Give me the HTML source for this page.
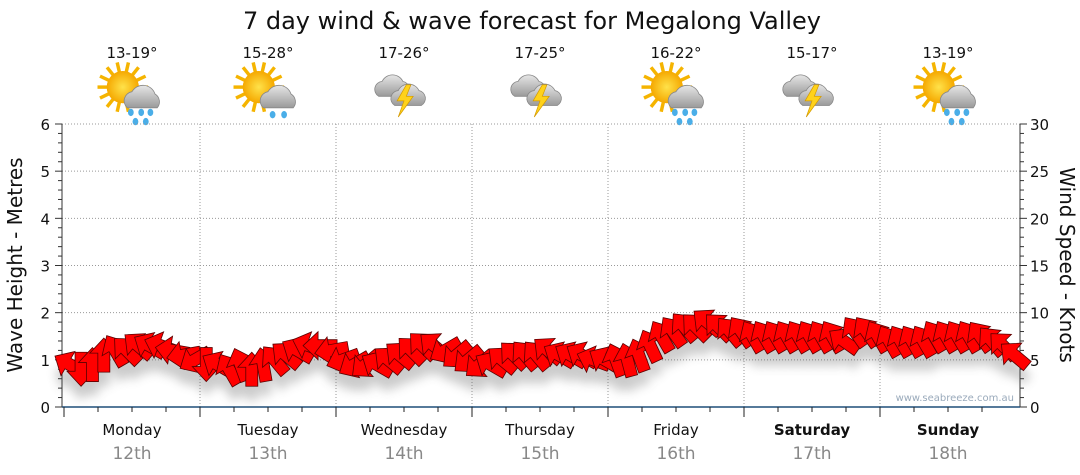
<!DOCTYPE html>
<html><head><meta charset="utf-8"><style>
html,body{margin:0;padding:0;background:#fff;width:1080px;height:475px;overflow:hidden}
text{font-family:"DejaVu Sans","Liberation Sans",sans-serif}
</style></head><body>
<svg id="chart" width="1080" height="475" viewBox="0 0 1080 475" xmlns="http://www.w3.org/2000/svg">
<defs>
<filter id="sh" x="-50%" y="-50%" width="200%" height="200%"><feGaussianBlur stdDeviation="5"/></filter>
<radialGradient id="sun" cx="50%" cy="50%" r="50%"><stop offset="0" stop-color="#ffe24a"/><stop offset="1" stop-color="#f5a800"/></radialGradient>
<linearGradient id="cl" x1="0" y1="0" x2="0" y2="1"><stop offset="0" stop-color="#e6e6e6"/><stop offset="1" stop-color="#9a9a9a"/></linearGradient>
</defs>
<text x="532" y="29" font-size="24" text-anchor="middle" fill="#111">7 day wind &amp; wave forecast for Megalong Valley</text>
<g id="hdr"></g>
<g id="grid"></g>
<g id="axes"></g>
<g id="shadows" filter="url(#sh)" opacity="0.3"></g>
<g id="arrows"></g>
<text x="1014" y="401" font-size="10" text-anchor="end" fill="#9aaabb">www.seabreeze.com.au</text>
<text transform="translate(22,265) rotate(-90)" font-size="20" text-anchor="middle" fill="#111">Wave Height - Metres</text>
<text transform="translate(1060,265) rotate(90)" font-size="20" text-anchor="middle" fill="#111">Wind Speed - Knots</text>
</svg>
<script>
const days=["Monday","Tuesday","Wednesday","Thursday","Friday","Saturday","Sunday"];
const dates=["12th","13th","14th","15th","16th","17th","18th"];
const temps=["13-19°","15-28°","17-26°","17-25°","16-22°","15-17°","13-19°"];
const icons=["sunrain","sunrain2","storm","storm","sunrain","storm","sunrain"];
const waveTicks=[0,1,2,3,4,5,6];
const windTicks=[0,5,10,15,20,25,30];
const windSpeed=[4.5,4,4.5,5.5,6,6,6.5,6.5,6.5,6,5.5,5,
4.5,4.5,4,4.5,4,4.5,5,5.5,6,6.5,6.5,6,
5,4.5,4.5,4.5,5,5.5,6,6.5,6.5,6,5.5,5,
4.5,4.5,5,5.5,5.5,5.5,6,5.5,5.5,5.5,5,5,
5,5,5.5,6.5,7.5,8,8.5,8.5,9,8.5,8,8,
7.5,7.5,7.5,7.5,7.5,7.5,7.5,7.5,7,8,8,7.5,
7,7,7,7,7.5,7.5,7.5,7.5,7.5,7,6.5,5.5];
const windDir=[-60,180,0,0,-30,-45,-50,-60,-70,-80,-100,-120,
180,-60,-30,-20,0,-10,-40,-50,-60,-70,-90,-100,
-110,-120,-130,-60,-50,-50,-45,-45,-50,-120,-130,-130,
-130,-60,-50,-45,-40,-40,-50,-60,-60,-60,-70,-60,
-20,-15,-20,-25,-30,-35,-40,-45,-50,-45,-40,-35,
-30,-30,-30,-30,-30,-30,-30,-30,-55,-35,-35,-30,
-30,-30,-30,-30,-30,-30,-30,-30,-35,-40,-45,-50];
const NS="http://www.w3.org/2000/svg";
const X0=64,DW=136,Y0=407,YT=124,PX1=1020;
const yWave=v=>Y0-(Y0-YT)*v/6;
const yWind=v=>Y0-(Y0-YT)*v/30;
const xIdx=i=>X0+(i+0.5)*(PX1-X0)/windSpeed.length;
function mk(tag,attrs,parent){const e=document.createElementNS(NS,tag);for(const k in attrs)e.setAttribute(k,attrs[k]);parent.appendChild(e);return e;}
const grid=document.getElementById('grid'),axes=document.getElementById('axes'),hdr=document.getElementById('hdr');
waveTicks.forEach((v,i)=>{
  const y=yWave(v);
  if(v>0){const g=mk('line',{x1:62,x2:PX1,y1:y,y2:y,stroke:'#999','stroke-dasharray':'1,2'},grid);
  
  }
  const t=mk('text',{x:50,y:y+6,'font-size':15,'text-anchor':'end',fill:'#111'},axes);t.textContent=v;
  
  
  const t2=mk('text',{x:1030,y:yWind(windTicks[i])+6,'font-size':15,fill:'#111'},axes);t2.textContent=windTicks[i];
  
  
});
for(let k=0;k<=30;k++){const y=yWave(k/5);const w=k%5==0?7:4;
  mk('line',{x1:62-w,x2:62,y1:y,y2:y,stroke:'#333'},axes);
  mk('line',{x1:PX1,x2:PX1+w,y1:yWind(k),y2:yWind(k),stroke:'#333'},axes);}
mk('line',{x1:62,x2:62,y1:YT,y2:Y0,stroke:'#333'},axes);
mk('line',{x1:PX1,x2:PX1,y1:YT,y2:Y0,stroke:'#333'},axes);
mk('line',{x1:62,x2:PX1,y1:Y0,y2:Y0,stroke:'#1f4e79','stroke-width':1.5},axes);
days.forEach((d,i)=>{
  const cx=X0+DW*(i+0.5);
  if(i>0){const g=mk('line',{x1:X0+DW*i,x2:X0+DW*i,y1:YT,y2:Y0,stroke:'#999','stroke-dasharray':'1,2'},grid);
  
  }
  mk('line',{x1:X0+DW*i,x2:X0+DW*i,y1:Y0,y2:Y0+10,stroke:'#222'},axes);
  for(let q=1;q<4;q++)mk('line',{x1:X0+DW*i+q*DW/4,x2:X0+DW*i+q*DW/4,y1:Y0,y2:Y0+5,stroke:'#222'},axes);
  const t=mk('text',{x:cx,y:435,'font-size':15,'text-anchor':'middle',fill:'#111','font-weight':i>=5?'bold':'normal'},axes);t.textContent=d;
  
  
  const t2=mk('text',{x:cx,y:459,'font-size':17,'text-anchor':'middle',fill:'#888'},axes);t2.textContent=dates[i];
  
  
  const t3=mk('text',{x:cx,y:58,'font-size':15,'text-anchor':'middle',fill:'#111'},hdr);t3.textContent=temps[i];
  
  
  const g=mk('g',{transform:`translate(${cx},94) scale(1.15)`},hdr);
  
  
  const ic=icons[i];
  if(ic.startsWith('sun')){
    for(let r=0;r<14;r++){const a=r*Math.PI/7;mk('line',{x1:-8+Math.cos(a)*10,y1:-6+Math.sin(a)*10,x2:-8+Math.cos(a)*22,y2:-6+Math.sin(a)*22,stroke:'#f5b400','stroke-width':3},g);}
    mk('circle',{cx:-8,cy:-6,r:14,fill:'url(#sun)'},g);
    mk('path',{d:'M-4,12 a8,8 0 0 1 4,-14 a11,11 0 0 1 20,2 a8,8 0 0 1 2,12 z',fill:'url(#cl)',stroke:'#888','stroke-width':0.7},g);
    const drops=ic=='sunrain'?[[-1,16],[8,16],[16,16],[3,24],[12,24]]:[[4,18],[14,18]];
    drops.forEach(p=>mk('ellipse',{cx:p[0],cy:p[1],rx:2.5,ry:3.2,fill:'#4aaee8'},g));
  } else {
    mk('path',{d:'M-22,2 a7,7 0 0 1 3,-13 a10,10 0 0 1 18,0 a7,7 0 0 1 2,13 z',fill:'url(#cl)',stroke:'#888','stroke-width':0.7},g);
    mk('path',{d:'M-8,10 a7,7 0 0 1 3,-13 a10,10 0 0 1 18,0 a7,7 0 0 1 2,13 z',fill:'url(#cl)',stroke:'#888','stroke-width':0.7},g);
    mk('path',{d:'M2,-8 L-6,6 L0,6 L-5,20 L8,2 L2,2 L6,-8 z',fill:'#ffd21a',stroke:'#d49a00','stroke-width':0.6},g);
  }
});
const ag=document.getElementById('arrows'),sg=document.getElementById('shadows');
const AP='M-6,17 L6,17 L6,-2 L14,-2 L0,-17 L-14,-2 L-6,-2 Z';
windSpeed.forEach((v,i)=>{
  const x=xIdx(i),y=yWind(v);
  mk('path',{d:AP,transform:`translate(${x},${y+14}) rotate(${windDir[i]})`,fill:'#555'},sg);
  const a=mk('path',{d:AP,transform:`translate(${x},${y}) rotate(${windDir[i]})`,fill:'#ff0000',stroke:'#5a0000','stroke-width':0.8},ag);
  
  
});
</script>
</body></html>
